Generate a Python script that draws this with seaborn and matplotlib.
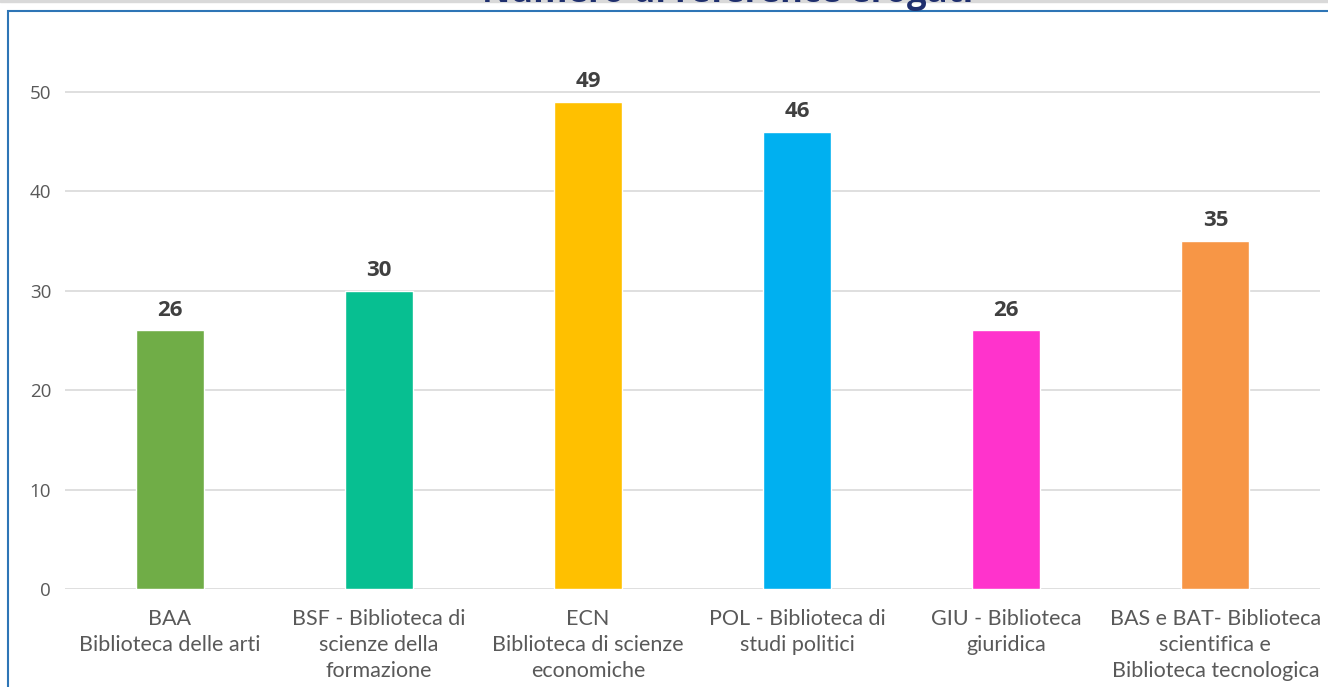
import pandas as pd
import seaborn as sns
import matplotlib.pyplot as plt
from matplotlib.patches import Rectangle

# dati
categorie = [
    "BAA\nBiblioteca delle arti",
    "BSF - Biblioteca di\nscienze della\nformazione",
    "ECN\nBiblioteca di scienze\neconomiche",
    "POL - Biblioteca di\nstudi politici",
    "GIU - Biblioteca\ngiuridica",
    "BAS e BAT- Biblioteca\nscientifica e\nBiblioteca tecnologica",
]
reference = [26, 30, 49, 46, 26, 35]
colori = ["#70AD47", "#07BF91", "#FFC000", "#00B0F0", "#FF33CC", "#F79646"]

df = pd.DataFrame({"Biblioteca": categorie, "Reference": reference})

sns.set_style("white")
plt.rcParams['font.family'] = ['Lato', 'DejaVu Sans']

fig = plt.figure(figsize=(13.28, 6.87), dpi=100)
ax = fig.add_axes([65 / 1328, 1 - 589 / 687, (1320 - 65) / 1328, (589 - 42) / 687])

sns.barplot(data=df, x="Biblioteca", y="Reference", hue="Biblioteca",
            palette=colori, width=0.325, legend=False, ax=ax, saturation=1)

for c in ax.containers:
    ax.bar_label(c, padding=7, fontsize=16, fontweight='bold', color='#404040',
                 family='Open Sans')

ax.set_ylim(0, 55)
ax.set_yticks(range(0, 51, 10))
ax.yaxis.grid(True, color='#D9D9D9', linewidth=1.2)
ax.set_axisbelow(True)
ax.set_xlabel("")
ax.set_ylabel("")
for s in ax.spines.values():
    s.set_visible(False)
ax.tick_params(axis='x', length=0, pad=14.5, labelsize=15.5, labelcolor='#595959')
ax.tick_params(axis='y', length=0, pad=10, labelsize=13.5, labelcolor='#595959')
for t in ax.get_xticklabels():
    t.set_linespacing(1.38)
    t.set_verticalalignment('top')
for t in ax.get_yticklabels():
    t.set_family('Open Sans')

# titolo (tagliato in alto come nell'originale)
fig.text(728 / 1328, 1 - 2 / 687, "Numero di reference erogati", ha='center',
         va='baseline', fontsize=25, fontweight='bold', color='#1F2F6E',
         family='Open Sans')

# cornice blu e linea grigia in alto
fig.patches.append(Rectangle((8 / 1328, -0.1), 1.2, 1.1 - 10.5 / 687,
                             transform=fig.transFigure, fill=False,
                             edgecolor='#2E75B6', linewidth=1.5))
fig.patches.append(Rectangle((0, 1 - 1.5 / 687), 1, 1.5 / 687,
                             transform=fig.transFigure, color='#D9D9D9'))

fig.savefig("out.png", dpi=100)
